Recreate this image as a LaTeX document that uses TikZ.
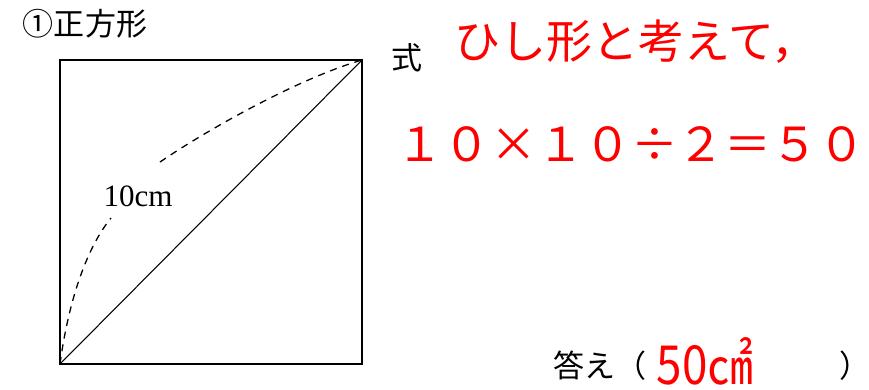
\documentclass[tikz,border=0pt]{standalone}
\usepackage{fontspec}
\setmainfont{Liberation Serif}
\newfontfamily\jpfont{Noto Sans CJK JP}
\usetikzlibrary{positioning}
\definecolor{ansred}{RGB}{255,0,0}

\begin{document}
\begin{tikzpicture}[
        x=0.03cm, y=-0.03cm,
        frame/.style={line width=1.6pt},
        diag/.style={line width=0.9pt},
        arcline/.style={line width=1.1pt, dash pattern=on 6pt off 5pt},
        jptext/.style={inner sep=0pt, font=\jpfont\fontsize{26.5pt}{30pt}\selectfont},
        redtext/.style={inner sep=0pt, text=ansred, font=\jpfont\fontsize{39.3pt}{44pt}\selectfont}
        ]
        \useasboundingbox (0,0) rectangle (869,389);

        % square
        \coordinate (bl) at (60,364);
        \coordinate (tr) at (362,60);
        \draw[frame] (bl) rectangle (tr);
        \draw[diag] (bl) -- (tr);

        % dashed arc with label
        \node[inner sep=0pt, font=\fontsize{26.5pt}{30pt}\selectfont] (len) at (138,196) {10cm};
        \coordinate (gapl) at (111,218);
        \coordinate (gapu) at (160,162);
        \draw[arcline] (bl) .. controls (68,305) and (85,250) .. (gapl);
        \draw[arcline] (gapu) .. controls (210,128) and (300,78) .. (tr);

        % texts
        \node[jptext] (title) at (85,24) {①正方形};
        \node[jptext] (shiki) at (407,58) {式};
        \node[redtext] (hint) at (636,42) {ひし形と考えて，};
        \node[redtext, font=\jpfont\fontsize{40pt}{44pt}\selectfont] (calc) at (631,144) {１０×１０÷２＝５０};

        % answer
        \node[jptext] (kotae) at (600,366) {答え（};
        \node[redtext, font=\jpfont\fontsize{46pt}{50pt}\selectfont, xscale=0.85, anchor=base, text depth=0pt] (ans) at (705,384) {50㎠};
        \node[jptext] (close) at (855,366) {）};
    \end{tikzpicture}
\end{document}
